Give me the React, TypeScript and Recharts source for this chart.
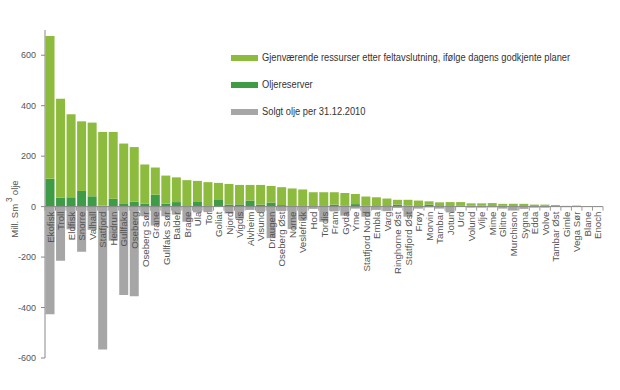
import React from 'react';
import { BarChart, Bar, XAxis, YAxis, ReferenceLine } from 'recharts';

document.body.style.margin = '0';

// oljefelt, sortert etter samlet gjenværende
const fields = [
    'Ekofisk', 'Troll', 'Eldfisk', 'Snorre', 'Valhall', 'Statfjord', 'Heidrun', 'Gullfaks', 'Oseberg',
    'Oseberg Sør', 'Grane', 'Gullfaks Sør', 'Balder', 'Brage', 'Ula', 'Tor', 'Goliat', 'Njord', 'Vigdis',
    'Alvheim', 'Visund', 'Draugen', 'Oseberg Øst', 'Norne', 'Veslefrikk', 'Hod', 'Tordis', 'Fram', 'Gyda',
    'Yme', 'Statfjord Nord', 'Embla', 'Varg', 'Ringhorne Øst', 'Statfjord Øst', 'Frøy', 'Morvin', 'Tambar',
    'Jotun', 'Urd', 'Volund', 'Vilje', 'Mime', 'Glitne', 'Murchison', 'Sygna', 'Edda', 'Volve', 'Tambar Øst',
    'Gimle', 'Vega Sør', 'Blane', 'Enoch',
];

const reserves = [
    110, 35, 37, 62, 41, 4, 31, 13, 20,
    12, 47, 12, 18, 2, 21, 1, 29, 8, 9,
    24, 8, 16, 6, 5, 5, 2, 5, 8, 3,
    10, 3, 1, 2, 8, 4, 0, 8, 2,
    2, 3, 4, 4, 1, 3, 1, 2, 1, 3, 1,
    1, 1, 0.5, 0.5,
];

const remaining = [
    566, 393, 329, 276, 292, 292, 265, 237, 216,
    155, 108, 111, 98, 103, 81, 96, 65, 82, 77,
    62, 78, 66, 71, 67, 63, 55, 52, 49, 51,
    40, 37, 36, 30, 19, 23, 24, 13, 15,
    16, 15, 9, 9, 13, 8, 10, 9, 7, 5, 5,
    2, 3, 0.5, 0.5,
];

const sold = [
    -427, -215, -90, -179, -92, -566, -135, -350, -355,
    -38, -75, -38, -32, -60, -23, -22, 0, -27, -48,
    -13, -21, -125, -18, -89, -52, -9, -60, -19, -36,
    -8, -40, -13, -18, -5, -40, -8, -3, -8,
    -23, 0, -4, -4, -3, -8, -15, -9, -4, -4, 0,
    -2, 0, 0, 0,
];

const yTicks = [-600, -400, -200, 0, 200, 400, 600];

const data = fields.map((name, i) => ({
    name,
    reserves: reserves[i],
    remaining: remaining[i],
    sold: sold[i],
}));

const W = 620;
const H = 390;
const M = { top: 30, right: 17, bottom: 31, left: 0 };
const Y_W = 45;
const X_H = 1;
const PLOT_W = W - M.left - M.right - Y_W;
const PLOT_H = H - M.top - M.bottom - X_H;
const BAND = PLOT_W / fields.length;
const ZERO_Y = M.top + PLOT_H * (700 / 1300);

const LIGHT = '#8dbb3d';
const DARK = '#3f9c46';
const GREY = '#a6a6a6';
const TEXT = '#555';
const FONT = '"Liberation Sans", Arial, sans-serif';

const FieldTick = (props: any) => {
    const { x, payload, index } = props;
    const last = index === fields.length - 1;
    return (
        <g>
            <line x1={x - BAND / 2} x2={x - BAND / 2} y1={ZERO_Y} y2={ZERO_Y + 4} stroke="#999" />
            {last && <line x1={x + BAND / 2} x2={x + BAND / 2} y1={ZERO_Y} y2={ZERO_Y + 4} stroke="#999" />}
            <text
                transform={`translate(${x + 3.5},${ZERO_Y + 5}) rotate(-90)`}
                textAnchor="end"
                fontSize={9.7}
                fontFamily={FONT}
                fill={TEXT}
            >
                {payload.value}
            </text>
        </g>
    );
};

const AxisTitle = () => (
    <text transform={`translate(18,209) rotate(-90)`} textAnchor="middle" fontSize={9.5} fontFamily={FONT} fill={TEXT}>
        Mill. Sm<tspan dy={-6} dx={2} fontSize={8.5}>3</tspan><tspan dy={6} dx={2}>olje</tspan>
    </text>
);

const legendItems = [
    { label: 'Gjenværende ressurser etter feltavslutning, ifølge dagens godkjente planer', color: LIGHT },
    { label: 'Oljereserver', color: DARK },
    { label: 'Solgt olje per 31.12.2010', color: GREY },
];

const ChartLegend = () => (
    <div style={{ position: 'absolute', top: 44, left: 231, fontFamily: FONT, fontSize: 10, color: '#333', whiteSpace: 'nowrap' }}>
        {legendItems.map((item) => (
            <div key={item.label} style={{ display: 'flex', alignItems: 'center', height: 27 }}>
                <span style={{ display: 'inline-block', width: 27, height: 6, background: item.color, marginRight: 4 }} />
                <span style={{ display: 'inline-block', transform: 'scaleX(0.93)', transformOrigin: 'left center' }}>{item.label}</span>
            </div>
        ))}
    </div>
);

export default function App() {
    return (
        <div style={{ position: 'relative', width: W, height: H, background: '#fff' }}>
            <BarChart
                width={W}
                height={H}
                data={data}
                margin={M}
                stackOffset="sign"
                barCategoryGap="5%"
            >
                <YAxis
                    width={Y_W}
                    domain={[-600, 700]}
                    ticks={yTicks}
                    interval={0}
                    stroke="#888"
                    tickSize={4}
                    tickMargin={5}
                    tick={{ fill: TEXT, fontSize: 9, fontFamily: FONT }}
                    label={<AxisTitle />}
                />
                <Bar dataKey="reserves" stackId="a" fill={DARK} isAnimationActive={false} />
                <Bar dataKey="remaining" stackId="a" fill={LIGHT} isAnimationActive={false} />
                <Bar dataKey="sold" stackId="a" fill={GREY} isAnimationActive={false} />
                <ReferenceLine y={0} stroke="#888" />
                <XAxis
                    dataKey="name"
                    height={X_H}
                    axisLine={false}
                    tickLine={false}
                    interval={0}
                    tick={<FieldTick />}
                />
            </BarChart>
            <ChartLegend />
        </div>
    );
}
